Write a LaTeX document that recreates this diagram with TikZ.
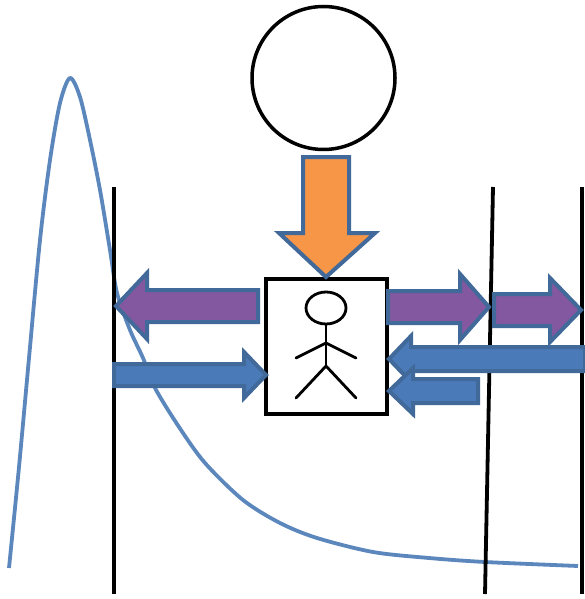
\documentclass[tikz,border=0pt]{standalone}
\usepackage{xcolor}
\definecolor{curveblue}{HTML}{5B87BC}
\definecolor{edgeblue}{HTML}{41699A}
\definecolor{fillblue}{HTML}{4A7AB8}
\definecolor{fillpurple}{HTML}{8358A0}
\definecolor{fillorange}{HTML}{F79646}
\tikzset{
	wall/.style={line width=3.8pt, line cap=butt},
	figure/.style={line width=2.8pt},
	blockarrow/.style={line width=4pt, draw=edgeblue, line join=miter},
}
% arrow along x: tail x, tip x, y, half shaft, head start x, half head, fill
\newcommand{\sidearrow}[7]{
	\draw[blockarrow,fill=#7] (#1,#3-#4)--(#5,#3-#4)--(#5,#3-#6)--(#2,#3)
	--(#5,#3+#6)--(#5,#3+#4)--(#1,#3+#4)--cycle;
}
\begin{document}
\begin{tikzpicture}[x=1pt, y=-1pt, line join=round, line cap=round]
	\useasboundingbox (0,0) rectangle (585,599);
	\path
	(114,187) coordinate (A)
	(114,594) coordinate (B)
	(493,187) coordinate (C)
	(485,594) coordinate (D)
	(582,187) coordinate (E)
	(582,594) coordinate (F)
	(326,308) coordinate (H)
	(326,325) coordinate (N)
	(326,343) coordinate (S)
	(326,366) coordinate (W)
	(296,358) coordinate (L)
	(356,358) coordinate (R)
	(296,398) coordinate (P)
	(356,398) coordinate (Q)
	;
	\draw[curveblue, line width=3.8pt, line cap=butt] plot[smooth] coordinates {(9,568) (19,467) (29,358) (40,240) (50,160) (60,103) (70,78) (80,97) (90,140) (100,190) (110,250) (117,293) (130,330) (143,358) (155,388) (179,427) (205,463) (243,500) (280,523) (317,538) (373,552) (429,558) (485,562) (578,566)};
	\draw[wall] (A)--(B);
	\draw[wall] (C)--(D);
	\draw[wall] (E)--(F);
	% source and box
	\draw[line width=3.5pt] (323.5,78) circle (71.5);
	\draw[line width=4.5pt, line join=miter, fill=white] (266,279) rectangle (387,414);
	\draw[figure] (H) ellipse (20 and 16);
	\draw[figure] (N)--(W);
	\draw[figure] (L)--(S)--(R);
	\draw[figure] (P)--(W)--(Q);
	% arrows
	\draw[blockarrow,fill=fillorange] (303,157)--(349,157)--(349,233)--(375,233)--(326,277)--(279,233)--(303,233)--cycle;
	\sidearrow{258}{116}{306}{16}{147}{33}{fillpurple}
	\sidearrow{114}{266}{375}{11}{244}{23}{fillblue}
	\sidearrow{388}{489}{307}{16}{460}{33}{fillpurple}
	\sidearrow{494}{581}{310}{16}{550}{32}{fillpurple}
	\sidearrow{585}{389}{359}{12}{411}{23}{fillblue}
	\sidearrow{478}{389}{391}{12}{413}{23}{fillblue}
\end{tikzpicture}
\end{document}
